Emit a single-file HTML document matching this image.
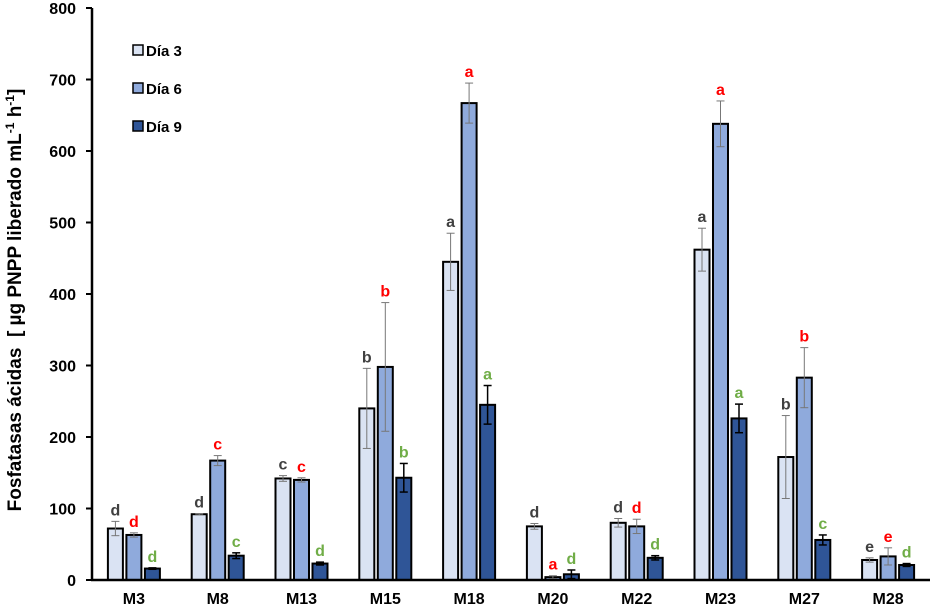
<!DOCTYPE html>
<html><head><meta charset="utf-8"><style>
body{margin:0;background:#fff;}
svg{display:block;font-family:"Liberation Sans",sans-serif;font-weight:bold;}
</style></head><body>
<svg id="c" width="933" height="609"></svg>
<script>
const categories=["M3","M8","M13","M15","M18","M20","M22","M23","M27","M28"];
const day3=[72,92,142,240,445,75,80,462,172,28];
const day6=[63,167,140,298,667,4,75,638,283,33];
const day9=[16,34,23,143,245,8,31,226,56,21];
const err3=[10,1,4,56,40,4,6,30,58,3];
const err6=[3,7,3,90,28,2,10,32,42,12];
const err9=[1,4,2,20,27,6,3,20,7,2];
const let3=["d","d","c","b","a","d","d","a","b","e"];
const let6=["d","c","c","b","a","a","d","a","b","e"];
const let9=["d","c","d","b","a","d","d","a","c","d"];
const yTicks=[0,100,200,300,400,500,600,700,800];
const seriesNames=["Día 3","Día 6","Día 9"];
const NS="http://www.w3.org/2000/svg";
const svg=document.getElementById('c');
const x0=92,x1=930,yb=580,yt=8;
const y=v=>yb-(v/800)*(yb-yt);
const gw=(x1-x0)/categories.length;
const gx=i=>x0+gw*(i+0.5);
function mk(t,a,p){const e=document.createElementNS(NS,t);for(const k in a)e.setAttribute(k,a[k]);(p||svg).appendChild(e);return e;}
yTicks.forEach(t=>{
 const tx=mk('text',{x:76,y:y(t)+6,'text-anchor':'end','font-size':16,fill:'#000'});tx.textContent=t;
 
 
 mk('line',{x1:86,x2:x0,y1:y(t),y2:y(t),stroke:'#000','stroke-width':2});
});
const yt1=mk('text',{transform:'translate(21,300) rotate(-90)','text-anchor':'middle','font-size':19,fill:'#000'});
yt1.innerHTML='Fosfatasas ácidas&#160; [ µg PNPP liberado mL<tspan dy="-7" font-size="12">-1</tspan><tspan dy="7"> h</tspan><tspan dy="-7" font-size="12">-1</tspan><tspan dy="7">]</tspan>';


const fills=["#dae3f3","#8faadc","#2f5597"];
const letCol=["#404040","#ff0000","#70ad47"];
const vals=[day3,day6,day9],errs=[err3,err6,err9],lets=[let3,let6,let9];
const bw=15,pitch=18.5;
categories.forEach((c,i)=>{
 for(let s=0;s<3;s++){
  const cx=gx(i)+(s-1)*pitch, v=vals[s][i], e=errs[s][i];
  const r=mk('rect',{x:cx-bw/2,y:y(v),width:bw,height:yb-y(v),fill:fills[s],stroke:'#000','stroke-width':2});
  
  
  const ec=s==2?'#000':'#777',ew=s==2?1.5:1;
  mk('line',{x1:cx,x2:cx,y1:y(v+e),y2:y(Math.max(0,v-e)),stroke:ec,'stroke-width':ew});
  mk('line',{x1:cx-4,x2:cx+4,y1:y(v+e),y2:y(v+e),stroke:ec,'stroke-width':ew});
  mk('line',{x1:cx-4,x2:cx+4,y1:y(Math.max(0,v-e)),y2:y(Math.max(0,v-e)),stroke:ec,'stroke-width':ew});
  const l=mk('text',{x:cx,y:y(v+e)-6,'text-anchor':'middle','font-size':16,fill:letCol[s]});l.textContent=lets[s][i];
  
  
 }
 const t=mk('text',{x:gx(i),y:604,'text-anchor':'middle','font-size':16,fill:'#000'});t.textContent=c;
 
 
});
mk('line',{x1:x0,x2:x0,y1:yt,y2:yb+1,stroke:'#000','stroke-width':2.5});
mk('line',{x1:x0-1,x2:x1,y1:yb,y2:yb,stroke:'#000','stroke-width':2.5});
seriesNames.forEach((n,s)=>{
 const yy=56+s*38;
 const g=mk('g',{});
 
 
 mk('rect',{x:133,y:yy-11,width:10,height:10,fill:fills[s],stroke:'#000','stroke-width':1.5},g);
 const t=mk('text',{x:146,y:yy,'font-size':15,fill:'#000'},g);t.textContent=n;
});
</script>
</body></html>
